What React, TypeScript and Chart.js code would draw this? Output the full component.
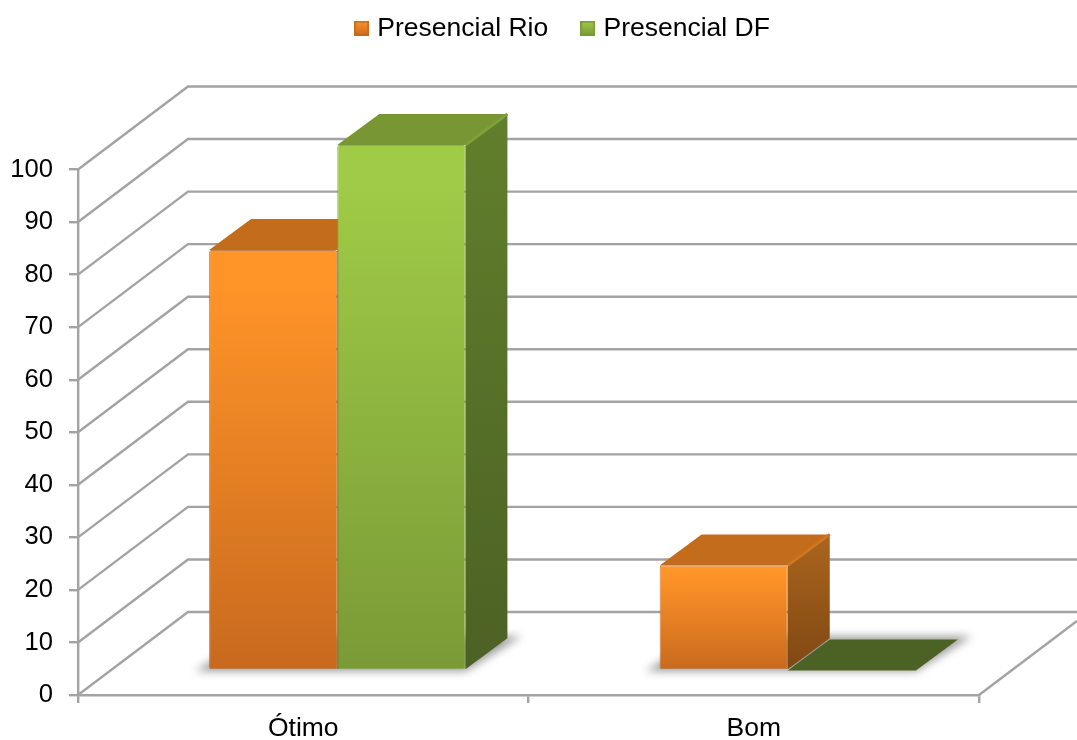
import React, { useEffect, useRef } from "react";
import { Chart, registerables } from "chart.js";

Chart.register(...registerables);

const categories = ["Ótimo", "Bom"];
const seriesNames = ["Presencial Rio", "Presencial DF"];
const rioValues = [80, 20];
const dfValues = [100, 0];

const FONT = "'Liberation Sans', Arial, sans-serif";
const GRID = "#a3a3a3";
const WALL_DX = 110;
const WALL_DY = 83;
const BAR_DX = 42;
const BAR_DY = 31;
const SHIFT_X = 34;
const SHIFT_Y = -24.5;

const palette = [
  { top: "#ff9428", bottom: "#c8691e", cap: "#c36c1c", capEdge: "#cf7720", sideTop: "#ab651e", sideBottom: "#7f4812", rim: "rgba(190,100,25,0.8)" },
  { top: "#9fcb47", bottom: "#7a9a36", cap: "#789633", capEdge: "#7fa036", sideTop: "#617f2c", sideBottom: "#4c6124", rim: "rgba(130,170,60,0.9)" },
];

function makeMarker(c: (typeof palette)[number]) {
  const m = document.createElement("canvas");
  m.width = 15;
  m.height = 15;
  const x = m.getContext("2d")!;
  const g = x.createLinearGradient(0, 0, 0, 15);
  g.addColorStop(0, c.top);
  g.addColorStop(1, c.bottom);
  x.fillStyle = g;
  x.fillRect(0, 0, 15, 15);
  x.fillStyle = c.bottom;
  x.globalAlpha = 0.8;
  x.fillRect(0, 0, 2, 15);
  x.fillRect(13, 0, 2, 15);
  x.fillRect(0, 13, 15, 2);
  x.fillStyle = c.cap;
  x.fillRect(0, 0, 15, 2);
  return m;
}

function poly(ctx: CanvasRenderingContext2D, pts: number[][]) {
  ctx.beginPath();
  pts.forEach((p, i) => (i ? ctx.lineTo(p[0], p[1]) : ctx.moveTo(p[0], p[1])));
  ctx.closePath();
}

const wallPlugin = {
  id: "wall",
  afterLayout(chart: any) {
    const lg = chart.legend;
    if (lg) {
      lg.left += 150;
      lg.top = -22;
    }
  },
  beforeDatasetsDraw(chart: any) {
    const { ctx, scales, chartArea, width } = chart;
    const y = scales.y;
    ctx.save();
    ctx.strokeStyle = GRID;
    ctx.lineWidth = 2.4;
    y.ticks.forEach((t: any) => {
      const py = y.getPixelForValue(t.value);
      ctx.beginPath();
      ctx.moveTo(chartArea.left, py);
      ctx.lineTo(chartArea.left + WALL_DX, py - WALL_DY);
      ctx.lineTo(width, py - WALL_DY);
      ctx.stroke();
    });
    const py0 = y.getPixelForValue(0);
    ctx.beginPath();
    ctx.moveTo(chartArea.right, py0);
    ctx.lineTo(width, py0 - ((width - chartArea.right) * WALL_DY) / WALL_DX);
    ctx.stroke();
    ctx.restore();

    const metaA = chart.getDatasetMeta(0);
    const metaB = chart.getDatasetMeta(1);
    ctx.save();
    ctx.translate(SHIFT_X, SHIFT_Y);

    // soft floor shadow below each group of bars
    ctx.save();
    ctx.filter = "blur(4px)";
    ctx.fillStyle = "rgba(90,90,90,0.6)";
    metaA.data.forEach((a: any, i: number) => {
      const b = metaB.data[i];
      const x0 = a.x - a.width / 2;
      const x1 = b.x + b.width / 2;
      const base = a.base;
      poly(ctx, [
        [x0 - 14, base + 2],
        [x1, base + 2],
        [x1 + BAR_DX + 14, base - BAR_DY - 2],
        [x0 + BAR_DX, base - BAR_DY - 2],
      ]);
      ctx.fill();
    });
    ctx.restore();

    // side and top faces, left series first so the right series covers them
    [metaA, metaB].forEach((meta: any, index: number) => {
      const c = palette[index];
      meta.data.forEach((el: any) => {
        const x0 = el.x - el.width / 2;
        const x1 = el.x + el.width / 2;
        const top = el.y;
        const base = el.base;
        const flat = Math.abs(base - top) < 1;
        if (!flat) {
          const g = ctx.createLinearGradient(0, top - BAR_DY, 0, base);
          g.addColorStop(0, c.sideTop);
          g.addColorStop(1, c.sideBottom);
          ctx.fillStyle = g;
          poly(ctx, [
            [x1, top],
            [x1 + BAR_DX, top - BAR_DY],
            [x1 + BAR_DX, base - BAR_DY],
            [x1, base],
          ]);
          ctx.fill();
        }
        ctx.fillStyle = flat ? c.sideBottom : c.cap;
        poly(ctx, [
          [x0, top],
          [x0 + BAR_DX, top - BAR_DY],
          [x1 + BAR_DX, top - BAR_DY],
          [x1, top],
        ]);
        ctx.fill();
        if (!flat) {
          ctx.strokeStyle = c.capEdge;
          ctx.lineWidth = 3;
          ctx.beginPath();
          ctx.moveTo(x1, top);
          ctx.lineTo(x1 + BAR_DX, top - BAR_DY);
          ctx.stroke();
        }
      });
    });
    ctx.restore();
  },
  beforeDatasetDraw(chart: any) {
    chart.ctx.save();
    chart.ctx.translate(SHIFT_X, SHIFT_Y);
  },
  afterDatasetDraw(chart: any) {
    chart.ctx.restore();
  },
};

function frontGradient(index: number) {
  return (context: any) => {
    const c = palette[index];
    const chart = context.chart;
    if (!chart.chartArea || context.dataIndex === undefined) return c.top;
    const y = chart.scales.y;
    const v = context.dataset.data[context.dataIndex];
    const g = chart.ctx.createLinearGradient(0, y.getPixelForValue(v), 0, y.getPixelForValue(0));
    g.addColorStop(0, c.top);
    g.addColorStop(0.08, c.top);
    g.addColorStop(1, c.bottom);
    return g;
  };
}

export default function App() {
  const ref = useRef<HTMLCanvasElement | null>(null);
  useEffect(() => {
    document.body.style.margin = "0";
    document.body.style.background = "#fff";
    const markers = palette.map(makeMarker);
    const chart = new Chart(ref.current!, {
      type: "bar",
      data: {
        labels: categories,
        datasets: [
          {
            label: seriesNames[0],
            data: rioValues,
            backgroundColor: frontGradient(0),
            borderColor: palette[0].rim,
            borderWidth: 1,
            borderRadius: 2,
            borderSkipped: false,
            categoryPercentage: 0.569,
            barPercentage: 1,
            clip: false,
          },
          {
            label: seriesNames[1],
            data: dfValues,
            backgroundColor: frontGradient(1),
            borderColor: palette[1].rim,
            borderWidth: (c: any) => (c.raw === 0 ? 0 : 1),
            borderRadius: 2,
            borderSkipped: false,
            categoryPercentage: 0.569,
            barPercentage: 1,
            clip: false,
          },
        ],
      } as any,
      options: {
        responsive: false,
        animation: false,
        devicePixelRatio: 1,
        layout: { padding: { top: 96, left: 0, right: 98, bottom: 0 } },
        plugins: {
          tooltip: { enabled: false },
          legend: {
            position: "top",
            labels: {
              color: "#000",
              font: { family: FONT, size: 26.5 },
              usePointStyle: true,
              boxWidth: 5,
              padding: 37,
              generateLabels(c: any) {
                const items = Chart.defaults.plugins.legend.labels.generateLabels(c);
                return items.map((it: any, i: number) => ({ ...it, pointStyle: markers[i] }));
              },
            },
          },
        },
        scales: {
          x: {
            afterFit(s: any) {
              s.height = 45;
            },
            grid: { drawOnChartArea: false, color: GRID, lineWidth: 2.4, tickLength: 8 },
            border: { color: GRID, width: 2.4 },
            ticks: { color: "#000", font: { family: FONT, size: 26.5 }, padding: 10, maxRotation: 0 },
          },
          y: {
            min: 0,
            max: 100,
            afterFit(s: any) {
              s.width = 78;
            },
            grid: { drawOnChartArea: false, color: GRID, lineWidth: 2.4, tickLength: 9 },
            border: { color: GRID, width: 2.4 },
            ticks: { color: "#000", font: { family: FONT, size: 25.6 }, stepSize: 10, padding: 16 },
          },
        },
      } as any,
      plugins: [wallPlugin as any],
    });
    return () => chart.destroy();
  }, []);
  return (
    <canvas
      ref={ref}
      width={1077}
      height={740}
      style={{ display: "block", position: "fixed", left: 0, top: 0 }}
    />
  );
}
